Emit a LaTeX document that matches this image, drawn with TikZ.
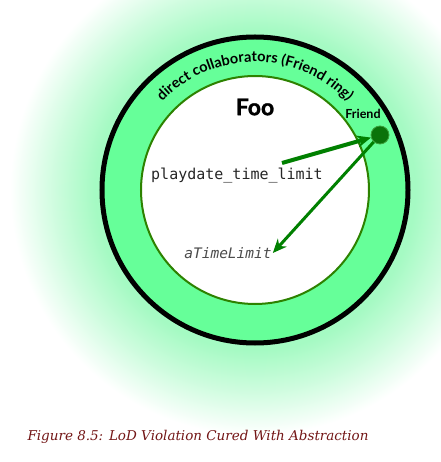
\documentclass[tikz,border=0pt]{standalone}
\usepackage{fontspec}
\usetikzlibrary{arrows.meta,positioning,decorations.text}
\newfontfamily\latofont{Lato}
\newfontfamily\heavyfont{Lato}[FakeBold=1.2]
\newfontfamily\codefont{DejaVu Sans Mono}
\newfontfamily\capfont{DejaVu Serif}

\definecolor{glowgreen}{RGB}{165,250,195}
\definecolor{ringgreen}{RGB}{102,255,153}
\definecolor{edgegreen}{RGB}{45,130,0}
\definecolor{arrowgreen}{RGB}{0,128,0}
\definecolor{dotgreen}{RGB}{10,115,10}
\definecolor{dotedge}{RGB}{60,160,60}
\definecolor{captionred}{RGB}{115,22,22}

\pgfdeclareradialshading{glow}{\pgfpoint{0bp}{0bp}}{%
  color(0bp)=(glowgreen); color(16bp)=(glowgreen); color(20bp)=(glowgreen!55!white);
  color(24.5bp)=(white); color(25bp)=(white); color(50bp)=(white)}

\begin{document}
\begin{tikzpicture}[
    x=1pt, y=1pt,
    label/.style={inner sep=1pt},
    codetext/.style={label, font=\codefont\fontsize{15}{17}\selectfont, text=black!85},
    link/.style={-{Stealth[length=14pt, width=12pt]}, draw=arrowgreen, line width=3pt}
]
\useasboundingbox (-255,-272) rectangle (185,190);

% glow and rings
\shade[shading=glow] (0,0) circle (250pt);
\draw[line width=5pt, fill=ringgreen] (0,0) circle (153pt);
\draw[line width=2pt, draw=edgegreen, fill=white] (0,0) circle (114pt);
\path[decorate, decoration={text along path, text align=center,
    text={|\latofont\bfseries\fontsize{14.5}{16}\selectfont|direct collaborators (Friend ring)}}]
  (155:128) arc[start angle=155, end angle=25, radius=128pt];

% nodes
\node[label, font=\heavyfont\bfseries\fontsize{23}{25}\selectfont] (foo) at (0,83) {Foo};
\node[circle, minimum size=18pt, inner sep=0pt, fill=dotgreen, draw=dotedge, line width=0.8pt] (friend) at (125,55) {};
\node[label, font=\latofont\bfseries\fontsize{12.5}{14}\selectfont] (friendlbl) at (108,76) {Friend};
\node[codetext] (playdate) at (-18,14) {playdate\_time\_limit};
\node[codetext, font=\codefont\itshape\fontsize{14.5}{16}\selectfont, text=black!70] (atl) at (-27,-63) {aTimeLimit};
\coordinate (start) at (27,27);

% connectors
\draw[link, line width=4pt] (start) -- (friend);
\draw[link] (friend) -- (atl.east);

% caption
\node[anchor=west, text=captionred, font=\capfont\itshape\fontsize{13.5}{15}\selectfont] (caption) at (-231,-247) {Figure 8.5: LoD Violation Cured With Abstraction};
\end{tikzpicture}
\end{document}
